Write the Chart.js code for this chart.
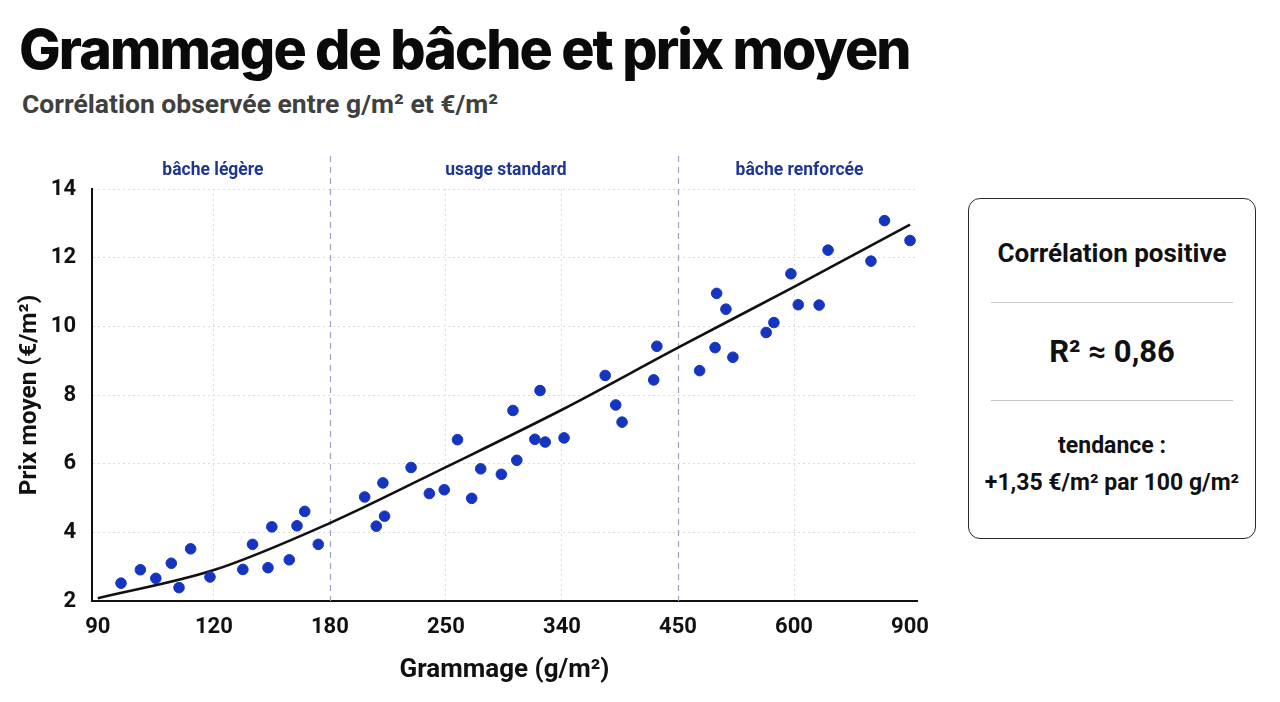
<!DOCTYPE html>
<html lang="fr">
<head>
<meta charset="utf-8">
<title>Grammage de bâche et prix moyen</title>
<script src="https://cdn.jsdelivr.net/npm/chart.js@4.4.1/dist/chart.umd.min.js"></script>
<style>
  html, body { margin: 0; padding: 0; background: #fff; }
  body { width: 1280px; height: 702px; position: relative; overflow: hidden; font-family: Roboto, sans-serif; }
  h1 { position: absolute; left: 19px; top: 15px; margin: 0; font-family: Inter, Roboto, sans-serif; font-weight: 800; font-size: 55.5px; letter-spacing: -1.9px; color: #0a0a0a; white-space: nowrap; }
  .sub { position: absolute; left: 22px; top: 88px; margin: 0; font-weight: 700; font-size: 26.5px; color: #404040; white-space: nowrap; }
  #wrap { position: absolute; left: 0; top: 140px; width: 950px; height: 562px; }
  .box { position: absolute; left: 968px; top: 198px; width: 288px; height: 341px; border: 1.6px solid #2a2a2a; border-radius: 12px; box-sizing: border-box; text-align: center; color: #111; }
  .box .t1 { position: absolute; left: 0; right: 0; top: 39px; font-weight: 700; font-size: 26px; }
  .box hr { position: absolute; left: 22px; right: 22px; margin: 0; border: 0; border-top: 1px solid #c8c8c8; }
  .box .t2 { position: absolute; left: 0; right: 0; top: 134px; font-weight: 700; font-size: 31px; }
  .box .t3 { position: absolute; left: 0; right: 0; top: 228px; font-weight: 700; font-size: 23px; line-height: 37px; }
</style>
</head>
<body>
<h1>Grammage de bâche et prix moyen</h1>
<p class="sub">Corrélation observée entre g/m² et €/m²</p>
<div id="wrap"><canvas id="myChart" width="950" height="562"></canvas></div>
<div class="box">
  <div class="t1">Corrélation positive</div>
  <hr style="top:103px">
  <div class="t2">R² ≈ 0,86</div>
  <hr style="top:201px">
  <div class="t3">tendance :<br>+1,35 €/m² par 100 g/m²</div>
</div>
<script>
// tick labels of the x axis (g/m2), evenly spaced on the chart
const tickGrams = [90, 120, 180, 250, 340, 450, 600, 900];
const yTicks = [2, 4, 6, 8, 10, 12, 14];

// observed points: grammage (g/m2) and average price (€/m2)
const grams = [96, 101, 105, 109, 111, 114, 119, 135, 140, 148, 150, 159, 163, 167, 174,
  201, 208, 212, 213, 229, 240, 249, 259, 270, 277, 293, 302, 305, 319, 323, 327, 342, 381, 391, 397, 427, 430,
  478, 498, 500, 512, 521, 564, 574, 596, 611, 665, 688, 799, 834, 900];
const prices = [2.52, 2.91, 2.66, 3.10, 2.39, 3.52, 2.70, 2.92, 3.65, 2.97, 4.16, 3.20, 4.19, 4.61, 3.65,
  5.03, 4.18, 5.44, 4.47, 5.89, 5.13, 5.24, 6.70, 4.99, 5.85, 5.69, 7.55, 6.10, 6.71, 8.13, 6.63, 6.75, 8.57, 7.71, 7.21, 8.44, 9.42,
  8.71, 9.38, 10.96, 10.50, 9.10, 9.82, 10.11, 11.53, 10.63, 10.62, 12.22, 11.90, 13.08, 12.50];

// trend curve read at each tick
const trendGrams = [90, 120, 180, 250, 340, 450, 600, 900];
const trendPrices = [2.08, 2.9, 4.27, 5.9, 7.57, 9.38, 11.15, 12.96];

// zones
const zoneNames = ["bâche légère", "usage standard", "bâche renforcée"];
const zoneBreaks = [180, 450];

// grammage -> position on the evenly spaced axis
function pos(g) {
  for (let i = 0; i < tickGrams.length - 1; i++) {
    if (g <= tickGrams[i + 1]) {
      return i + (g - tickGrams[i]) / (tickGrams[i + 1] - tickGrams[i]);
    }
  }
  return tickGrams.length - 1;
}

const points = grams.map((g, i) => ({ x: pos(g), y: prices[i] }));
const trend = trendGrams.map((g, i) => ({ x: pos(g), y: trendPrices[i] }));

const font = "Roboto, sans-serif";

const zonePlugin = {
  id: "zones",
  beforeDatasetsDraw(chart) {
    const { ctx, chartArea, scales } = chart;
    ctx.save();
    ctx.strokeStyle = "#9aa2c2";
    ctx.lineWidth = 1.2;
    ctx.setLineDash([6, 5]);
    zoneBreaks.forEach((b) => {
      const x = Math.round(scales.x.getPixelForValue(pos(b))) + 0.5;
      ctx.beginPath();
      ctx.moveTo(x, chartArea.top - 33);
      ctx.lineTo(x, chartArea.bottom);
      ctx.stroke();
    });
    ctx.restore();
  },
  afterDraw(chart) {
    const { ctx, chartArea, scales } = chart;
    const edges = [chartArea.left, ...zoneBreaks.map((b) => scales.x.getPixelForValue(pos(b))), chartArea.right];
    ctx.save();
    ctx.fillStyle = "#1f3592";
    ctx.font = "bold 17.5px " + font;
    ctx.textAlign = "center";
    ctx.textBaseline = "middle";
    zoneNames.forEach((n, i) => {
      ctx.fillText(n, (edges[i] + edges[i + 1]) / 2 + 2, chartArea.top - 18);
    });
    ctx.restore();
  }
};

new Chart(document.getElementById("myChart"), {
  type: "scatter",
  data: {
    datasets: [
      {
        type: "line",
        label: "tendance",
        data: trend,
        borderColor: "#111",
        borderWidth: 2.6,
        pointRadius: 0,
        cubicInterpolationMode: "monotone",
        fill: false,
        order: 2
      },
      {
        label: "observations",
        data: points,
        backgroundColor: "#1535c0",
        borderColor: "#1535c0",
        pointRadius: 5.3,
        order: 1
      }
    ]
  },
  plugins: [zonePlugin],
  options: {
    responsive: false,
    animation: false,
    layout: { padding: { left: 0, right: 33, top: 49, bottom: 0 } },
    plugins: { legend: { display: false }, tooltip: { enabled: false } },
    scales: {
      x: {
        type: "linear",
        min: -0.05,
        max: 7.06,
        afterBuildTicks: (s) => { s.ticks = tickGrams.map((g, i) => ({ value: i })); },
        afterFit: (s) => { s.height = 101; },
        ticks: {
          callback: (v) => tickGrams[v],
          color: "#111",
          font: { family: font, size: 22, weight: "bold" },
          padding: 13,
          maxRotation: 0
        },
        grid: {
          drawTicks: false,
          color: (c) => (c.index === 0 || c.index === 2 || c.index === 5 || c.index === 7) ? "rgba(0,0,0,0)" : "#dcdcdc",
          lineWidth: 1
        },
        border: { display: true, color: "#111", width: 2, dash: [2, 3] },
        title: {
          display: true,
          text: "Grammage (g/m²)",
          color: "#111",
          font: { family: font, size: 26, weight: "bold" },
          padding: { bottom: 16 }
        }
      },
      y: {
        min: 2,
        max: 14,
        afterBuildTicks: (s) => { s.ticks = yTicks.map((v) => ({ value: v })); },
        afterFit: (s) => { s.width = 92; },
        ticks: {
          color: "#111",
          font: { family: font, size: 22, weight: "bold" },
          padding: 16
        },
        grid: {
          drawTicks: false,
          color: (c) => c.index === 0 ? "rgba(0,0,0,0)" : "#dcdcdc",
          lineWidth: 1
        },
        border: { display: true, color: "#111", width: 2, dash: [2, 3] },
        title: {
          display: true,
          text: "Prix moyen (€/m²)",
          color: "#111",
          font: { family: font, size: 24.5, weight: "bold" },
          padding: { top: 15 }
        }
      }
    }
  }
});
</script>
</body>
</html>
